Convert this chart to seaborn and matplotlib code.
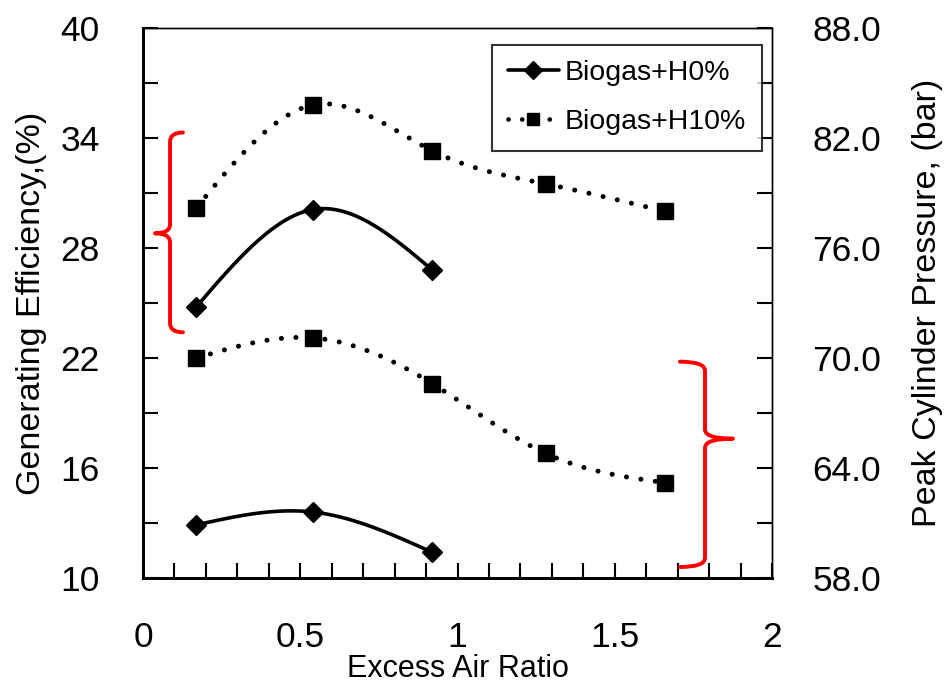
import numpy as np
import pandas as pd
import matplotlib
matplotlib.use("Agg")
import matplotlib.pyplot as plt
from matplotlib.lines import Line2D
from matplotlib.path import Path
from matplotlib.patches import PathPatch
import seaborn as sns

# ---------------- data ----------------
x_h0 = [0.17, 0.54, 0.92]
x_h10 = [0.17, 0.54, 0.92, 1.28, 1.66]
eff_h0 = [24.8, 30.1, 26.8]
eff_h10 = [30.2, 35.8, 33.3, 31.5, 30.0]
pres_h0 = [60.9, 61.6, 59.4]
pres_h10 = [70.0, 71.1, 68.6, 64.8, 63.2]
left_ticks = [10, 16, 22, 28, 34, 40]
right_ticks = [58.0, 64.0, 70.0, 76.0, 82.0, 88.0]
x_ticks = [0, 0.5, 1, 1.5, 2]
x_ticklabels = ["0", "0.5", "1", "1.5", "2"]
series_names = ["Biogas+H0%", "Biogas+H10%"]


def natural_spline(x, y, n=200):
    x = np.asarray(x, float)
    y = np.asarray(y, float)
    k = len(x)
    h = np.diff(x)
    A = np.zeros((k, k))
    b = np.zeros(k)
    A[0, 0] = 1
    A[-1, -1] = 1
    for i in range(1, k - 1):
        A[i, i - 1] = h[i - 1]
        A[i, i] = 2 * (h[i - 1] + h[i])
        A[i, i + 1] = h[i]
        b[i] = 3 * ((y[i + 1] - y[i]) / h[i] - (y[i] - y[i - 1]) / h[i - 1])
    c = np.linalg.solve(A, b)
    xs = np.linspace(x[0], x[-1], n)
    ys = np.empty_like(xs)
    for j, xv in enumerate(xs):
        i = min(np.searchsorted(x, xv, side="right") - 1, k - 2)
        bi = (y[i + 1] - y[i]) / h[i] - h[i] * (2 * c[i] + c[i + 1]) / 3
        di = (c[i + 1] - c[i]) / (3 * h[i])
        dx = xv - x[i]
        ys[j] = y[i] + bi * dx + c[i] * dx ** 2 + di * dx ** 3
    return xs, ys


sns.set_theme(style="white")
plt.rcParams["font.family"] = ["Liberation Sans", "DejaVu Sans"]
plt.rcParams["text.color"] = "black"
plt.rcParams["axes.labelcolor"] = "black"

fig = plt.figure(figsize=(9.46, 6.9), dpi=100)
ax = fig.add_axes([143 / 946, 1 - 578 / 690, (772 - 143) / 946, (578 - 28) / 690])
ax2 = ax.twinx()

DOT = (0, (0.01, 2.9))
solid = dict(color="black", lw=2.6, linestyle="-")
dotted = dict(color="black", lw=3.6, linestyle=DOT, dash_capstyle="round")

# efficiency on left axis
for xs_, ys_, style, mk, ms in [(x_h0, eff_h0, solid, "D", 10),
                                (x_h10, eff_h10, dotted, "s", 11)]:
    sx, sy = natural_spline(xs_, ys_)
    sns.lineplot(x=sx, y=sy, ax=ax, sort=False, **style)
    ax.plot(xs_, ys_, linestyle="none", marker=mk, ms=ms, color="black", zorder=5)

# pressure on right axis
for xs_, ys_, style, mk, ms in [(x_h0, pres_h0, solid, "D", 10),
                                (x_h10, pres_h10, dotted, "s", 11)]:
    sx, sy = natural_spline(xs_, ys_)
    sns.lineplot(x=sx, y=sy, ax=ax2, sort=False, **style)
    ax2.plot(xs_, ys_, linestyle="none", marker=mk, ms=ms, color="black", zorder=5)

ax.set_xlim(0, 2)
ax.set_ylim(10, 40)
ax2.set_ylim(58, 88)
ax.set_xticks(x_ticks)
ax.set_xticklabels(x_ticklabels)
ax.set_xticks(np.arange(0, 2.0001, 0.1), minor=True)
ax.set_yticks(left_ticks)
ax.set_yticks(np.arange(10, 40.1, 3), minor=True)
ax2.set_yticks(right_ticks)
ax2.set_yticklabels([f"{v:.1f}" for v in right_ticks])
ax2.set_yticks(np.arange(58, 88.1, 3), minor=True)

ax.tick_params(axis="both", which="both", direction="in", labelsize=25.5,
               length=11, width=1.5, color="black", labelcolor="black")
ax.tick_params(axis="x", which="both", bottom=True, top=False, pad=31)
ax.tick_params(axis="y", which="both", left=True, right=False, pad=31)
ax2.tick_params(axis="y", which="both", direction="in", labelsize=25.5, pad=29,
                length=11, width=1.5, color="black", right=True, labelcolor="black")

for a in (ax, ax2):
    for s in a.spines.values():
        s.set_color("black")
    a.spines["left"].set_linewidth(2)
    a.spines["bottom"].set_linewidth(2)
    a.spines["top"].set_linewidth(1)
    a.spines["right"].set_linewidth(1)

ax.set_xlabel("Excess Air Ratio", fontsize=22, labelpad=0)
ax.set_ylabel("Generating Efficiency,(%)", fontsize=24.5, labelpad=10)
ax2.set_ylabel("Peak Cylinder Pressure, (bar)", fontsize=24.5, labelpad=22)


# red curly brackets (annotation)
def bracket(a, xv, xend, xtip, ytop, ybot, ymid, d=0.5):
    verts = [(xend, ytop), (xv, ytop), (xv, ytop - d),
             (xv, ymid + d), (xv, ymid), (xtip, ymid),
             (xv, ymid), (xv, ymid - d),
             (xv, ybot + d), (xv, ybot), (xend, ybot)]
    codes = [Path.MOVETO, Path.CURVE3, Path.CURVE3,
             Path.LINETO, Path.CURVE3, Path.CURVE3,
             Path.CURVE3, Path.CURVE3,
             Path.LINETO, Path.CURVE3, Path.CURVE3]
    patch = PathPatch(Path(verts, codes), facecolor="none", edgecolor="red",
                      lw=2.8, capstyle="round", joinstyle="round",
                      clip_on=False, zorder=6)
    a.add_patch(patch)


bracket(ax, 0.086, 0.127, 0.038, 34.3, 23.4, 28.8)
bracket(ax, 1.787, 1.707, 1.876, 21.8, 10.6, 17.6)

handles = [
    Line2D([], [], color="black", lw=2.6, marker="D", ms=9, label=series_names[0]),
    Line2D([], [], color="black", lw=3.4, linestyle=DOT, dash_capstyle="round",
           marker="s", ms=9, label=series_names[1]),
]
leg = ax2.legend(handles=handles, loc="upper right", bbox_to_anchor=(0.997, 0.985),
                 fontsize=20.5, frameon=True, fancybox=False, edgecolor="black",
                 handlelength=1.8, handletextpad=0.2, borderpad=0.55, labelspacing=0.8,
                 borderaxespad=0.3)
leg.get_frame().set_linewidth(1.5)

fig.savefig("out.png", dpi=100)
